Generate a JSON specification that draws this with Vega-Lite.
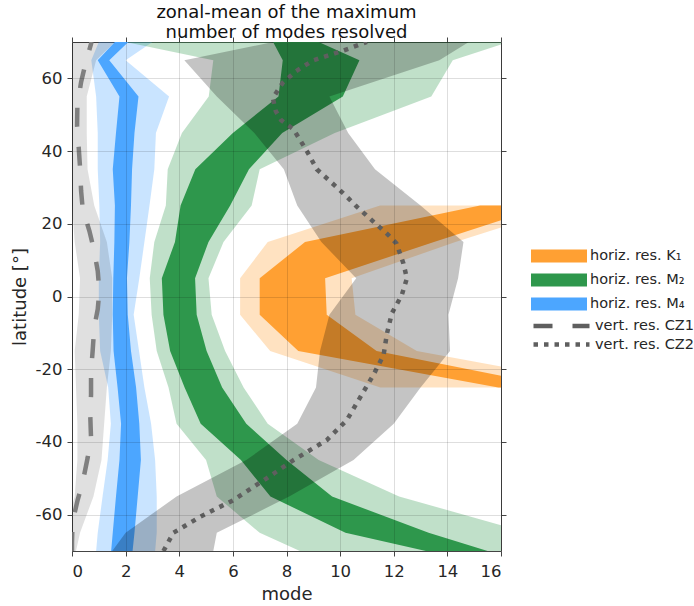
{
  "$schema": "https://vega.github.io/schema/vega-lite/v6.json",
  "autosize": "none",
  "width": 429,
  "height": 509,
  "padding": {"left": 72, "top": 42, "right": 193, "bottom": 55},
  "background": "white",
  "config": {
    "font": "DejaVu Sans",
    "view": {"stroke": "#444", "strokeWidth": 1},
    "axis": {"labelFont": "DejaVu Sans", "titleFont": "DejaVu Sans", "labelFontSize": 16.5, "titleFontSize": 18, "titleFontWeight": "normal", "labelColor": "#262626", "titleColor": "#262626", "tickColor": "#444", "tickSize": 5, "domainColor": "#444", "gridColor": "#000", "gridOpacity": 0.13, "gridWidth": 1},
    "legend": {"labelFont": "DejaVu Sans", "labelFontSize": 14.5, "labelColor": "#262626", "title": null, "labelLimit": 200}
  },
  "title": {"text": ["zonal-mean of the maximum", "number of modes resolved"], "fontSize": 18, "fontWeight": "normal", "font": "DejaVu Sans", "color": "#111", "anchor": "middle", "offset": -5, "lineHeight": 20},
  "datasets": {
    "bands": [
      {"s": "horiz. res. M₄", "k": "o", "lat": 70, "lo": 1.0, "hi": 3.0},
      {"s": "horiz. res. M₄", "k": "o", "lat": 65, "lo": 0.72, "hi": 2.0},
      {"s": "horiz. res. M₄", "k": "o", "lat": 55, "lo": 0.9, "hi": 3.62},
      {"s": "horiz. res. M₄", "k": "o", "lat": 45, "lo": 0.96, "hi": 3.13},
      {"s": "horiz. res. M₄", "k": "o", "lat": 35, "lo": 0.96, "hi": 3.07},
      {"s": "horiz. res. M₄", "k": "o", "lat": 25, "lo": 1.02, "hi": 2.89},
      {"s": "horiz. res. M₄", "k": "o", "lat": 15, "lo": 1.05, "hi": 2.7},
      {"s": "horiz. res. M₄", "k": "o", "lat": 5, "lo": 1.0, "hi": 2.51},
      {"s": "horiz. res. M₄", "k": "o", "lat": -5, "lo": 1.0, "hi": 2.3},
      {"s": "horiz. res. M₄", "k": "o", "lat": -15, "lo": 1.05, "hi": 2.5},
      {"s": "horiz. res. M₄", "k": "o", "lat": -25, "lo": 1.35, "hi": 2.7},
      {"s": "horiz. res. M₄", "k": "o", "lat": -35, "lo": 1.45, "hi": 2.95},
      {"s": "horiz. res. M₄", "k": "o", "lat": -45, "lo": 1.33, "hi": 3.1},
      {"s": "horiz. res. M₄", "k": "o", "lat": -55, "lo": 1.14, "hi": 3.16},
      {"s": "horiz. res. M₄", "k": "o", "lat": -65, "lo": 0.96, "hi": 3.16},
      {"s": "horiz. res. M₄", "k": "o", "lat": -70, "lo": 0.9, "hi": 3.1},
      {"s": "horiz. res. M₄", "k": "i", "lat": 70, "lo": 1.6, "hi": 2.1},
      {"s": "horiz. res. M₄", "k": "i", "lat": 65, "lo": 0.96, "hi": 1.39},
      {"s": "horiz. res. M₄", "k": "i", "lat": 55, "lo": 1.77, "hi": 2.48},
      {"s": "horiz. res. M₄", "k": "i", "lat": 45, "lo": 1.64, "hi": 2.33},
      {"s": "horiz. res. M₄", "k": "i", "lat": 35, "lo": 1.52, "hi": 2.24},
      {"s": "horiz. res. M₄", "k": "i", "lat": 25, "lo": 1.6, "hi": 2.2},
      {"s": "horiz. res. M₄", "k": "i", "lat": 15, "lo": 1.58, "hi": 2.14},
      {"s": "horiz. res. M₄", "k": "i", "lat": 5, "lo": 1.54, "hi": 2.05},
      {"s": "horiz. res. M₄", "k": "i", "lat": -5, "lo": 1.52, "hi": 2.08},
      {"s": "horiz. res. M₄", "k": "i", "lat": -15, "lo": 1.55, "hi": 2.2},
      {"s": "horiz. res. M₄", "k": "i", "lat": -25, "lo": 1.7, "hi": 2.39},
      {"s": "horiz. res. M₄", "k": "i", "lat": -35, "lo": 1.83, "hi": 2.51},
      {"s": "horiz. res. M₄", "k": "i", "lat": -45, "lo": 1.77, "hi": 2.57},
      {"s": "horiz. res. M₄", "k": "i", "lat": -55, "lo": 1.64, "hi": 2.45},
      {"s": "horiz. res. M₄", "k": "i", "lat": -65, "lo": 1.52, "hi": 2.33},
      {"s": "horiz. res. M₄", "k": "i", "lat": -70, "lo": 1.46, "hi": 2.26},
      {"s": "horiz. res. M₂", "k": "o", "lat": 70, "lo": 2.0, "hi": 16.3},
      {"s": "horiz. res. M₂", "k": "o", "lat": 65, "lo": 5.27, "hi": 14.2},
      {"s": "horiz. res. M₂", "k": "o", "lat": 55, "lo": 5.1, "hi": 13.4},
      {"s": "horiz. res. M₂", "k": "o", "lat": 45, "lo": 4.1, "hi": 9.8},
      {"s": "horiz. res. M₂", "k": "o", "lat": 35, "lo": 3.57, "hi": 7.0},
      {"s": "horiz. res. M₂", "k": "o", "lat": 25, "lo": 3.5, "hi": 6.7},
      {"s": "horiz. res. M₂", "k": "o", "lat": 15, "lo": 3.07, "hi": 5.65},
      {"s": "horiz. res. M₂", "k": "o", "lat": 5, "lo": 2.9, "hi": 5.09},
      {"s": "horiz. res. M₂", "k": "o", "lat": -5, "lo": 2.97, "hi": 5.21},
      {"s": "horiz. res. M₂", "k": "o", "lat": -15, "lo": 3.16, "hi": 5.71},
      {"s": "horiz. res. M₂", "k": "o", "lat": -25, "lo": 3.6, "hi": 6.4},
      {"s": "horiz. res. M₂", "k": "o", "lat": -35, "lo": 3.9, "hi": 7.3},
      {"s": "horiz. res. M₂", "k": "o", "lat": -45, "lo": 5.0, "hi": 9.2},
      {"s": "horiz. res. M₂", "k": "o", "lat": -55, "lo": 5.4, "hi": 12.2},
      {"s": "horiz. res. M₂", "k": "o", "lat": -65, "lo": 7.0, "hi": 17.0},
      {"s": "horiz. res. M₂", "k": "o", "lat": -70, "lo": 8.5, "hi": 18.2},
      {"s": "horiz. res. M₂", "k": "i", "lat": 70, "lo": 7.5, "hi": 9.2},
      {"s": "horiz. res. M₂", "k": "i", "lat": 65, "lo": 7.86, "hi": 10.72},
      {"s": "horiz. res. M₂", "k": "i", "lat": 55, "lo": 7.7, "hi": 10.1},
      {"s": "horiz. res. M₂", "k": "i", "lat": 45, "lo": 6.0, "hi": 7.84},
      {"s": "horiz. res. M₂", "k": "i", "lat": 35, "lo": 4.6, "hi": 6.6},
      {"s": "horiz. res. M₂", "k": "i", "lat": 25, "lo": 4.05, "hi": 5.9},
      {"s": "horiz. res. M₂", "k": "i", "lat": 15, "lo": 3.84, "hi": 5.09},
      {"s": "horiz. res. M₂", "k": "i", "lat": 5, "lo": 3.35, "hi": 4.59},
      {"s": "horiz. res. M₂", "k": "i", "lat": -5, "lo": 3.41, "hi": 4.65},
      {"s": "horiz. res. M₂", "k": "i", "lat": -15, "lo": 3.66, "hi": 5.02},
      {"s": "horiz. res. M₂", "k": "i", "lat": -25, "lo": 4.2, "hi": 5.6},
      {"s": "horiz. res. M₂", "k": "i", "lat": -35, "lo": 4.8, "hi": 6.5},
      {"s": "horiz. res. M₂", "k": "i", "lat": -45, "lo": 6.3, "hi": 8.0},
      {"s": "horiz. res. M₂", "k": "i", "lat": -55, "lo": 7.4, "hi": 9.7},
      {"s": "horiz. res. M₂", "k": "i", "lat": -65, "lo": 10.2, "hi": 13.3},
      {"s": "horiz. res. M₂", "k": "i", "lat": -70, "lo": 13.2, "hi": 15.5},
      {"s": "horiz. res. K₁", "k": "o", "lat": 25, "lo": 11.49, "hi": 18.6},
      {"s": "horiz. res. K₁", "k": "o", "lat": 15, "lo": 7.3, "hi": 14.3},
      {"s": "horiz. res. K₁", "k": "o", "lat": 5, "lo": 6.27, "hi": 10.43},
      {"s": "horiz. res. K₁", "k": "o", "lat": -5, "lo": 6.27, "hi": 10.57},
      {"s": "horiz. res. K₁", "k": "o", "lat": -15, "lo": 7.39, "hi": 12.86},
      {"s": "horiz. res. K₁", "k": "o", "lat": -25, "lo": 11.5, "hi": 20.2},
      {"s": "horiz. res. K₁", "k": "i", "lat": 25, "lo": 15.22, "hi": 17.7},
      {"s": "horiz. res. K₁", "k": "i", "lat": 15, "lo": 8.69, "hi": 13.5},
      {"s": "horiz. res. K₁", "k": "i", "lat": 5, "lo": 7.0, "hi": 9.44},
      {"s": "horiz. res. K₁", "k": "i", "lat": -5, "lo": 7.0, "hi": 9.5},
      {"s": "horiz. res. K₁", "k": "i", "lat": -15, "lo": 8.44, "hi": 11.36},
      {"s": "horiz. res. K₁", "k": "i", "lat": -25, "lo": 15.9, "hi": 18.2}
    ],
    "grey": [
      {"b": "CZ1", "lat": 70, "lo": -0.3, "hi": 1.6},
      {"b": "CZ1", "lat": 65, "lo": -0.2, "hi": 0.9},
      {"b": "CZ1", "lat": 55, "lo": -0.1, "hi": 0.55},
      {"b": "CZ1", "lat": 45, "lo": -0.05, "hi": 0.55},
      {"b": "CZ1", "lat": 35, "lo": 0.0, "hi": 0.58},
      {"b": "CZ1", "lat": 25, "lo": 0.0, "hi": 0.83},
      {"b": "CZ1", "lat": 15, "lo": 0.1, "hi": 1.3},
      {"b": "CZ1", "lat": 5, "lo": 0.3, "hi": 1.5},
      {"b": "CZ1", "lat": -5, "lo": 0.25, "hi": 1.5},
      {"b": "CZ1", "lat": -15, "lo": 0.1, "hi": 1.45},
      {"b": "CZ1", "lat": -25, "lo": 0.15, "hi": 1.3},
      {"b": "CZ1", "lat": -35, "lo": 0.2, "hi": 1.2},
      {"b": "CZ1", "lat": -45, "lo": 0.2, "hi": 1.1},
      {"b": "CZ1", "lat": -55, "lo": 0.1, "hi": 0.8},
      {"b": "CZ1", "lat": -65, "lo": -0.3, "hi": 0.3},
      {"b": "CZ1", "lat": -70, "lo": -0.4, "hi": 0.15},
      {"b": "CZ2", "lat": 70, "lo": 7.5, "hi": 14.8},
      {"b": "CZ2", "lat": 65, "lo": 4.19, "hi": 13.7},
      {"b": "CZ2", "lat": 55, "lo": 5.4, "hi": 9.6},
      {"b": "CZ2", "lat": 45, "lo": 6.8, "hi": 10.3},
      {"b": "CZ2", "lat": 35, "lo": 7.9, "hi": 11.3},
      {"b": "CZ2", "lat": 25, "lo": 8.4, "hi": 13.0},
      {"b": "CZ2", "lat": 15, "lo": 9.3, "hi": 14.6},
      {"b": "CZ2", "lat": 5, "lo": 10.6, "hi": 14.4},
      {"b": "CZ2", "lat": -5, "lo": 9.6, "hi": 14.04},
      {"b": "CZ2", "lat": -15, "lo": 9.25, "hi": 14.1},
      {"b": "CZ2", "lat": -25, "lo": 9.1, "hi": 13.0},
      {"b": "CZ2", "lat": -35, "lo": 8.4, "hi": 12.0},
      {"b": "CZ2", "lat": -45, "lo": 6.5, "hi": 10.5},
      {"b": "CZ2", "lat": -55, "lo": 3.9, "hi": 8.1},
      {"b": "CZ2", "lat": -65, "lo": 2.0, "hi": 5.4},
      {"b": "CZ2", "lat": -70, "lo": 1.5, "hi": 5.27}
    ],
    "lines": [
      {"line": "vert. res. CZ1", "lat": 70, "mode": 0.73},
      {"line": "vert. res. CZ1", "lat": 64, "mode": 0.5},
      {"line": "vert. res. CZ1", "lat": 59, "mode": 0.34},
      {"line": "vert. res. CZ1", "lat": 52.5, "mode": 0.2},
      {"line": "vert. res. CZ1", "lat": 47, "mode": 0.19},
      {"line": "vert. res. CZ1", "lat": 41, "mode": 0.25},
      {"line": "vert. res. CZ1", "lat": 35.5, "mode": 0.3},
      {"line": "vert. res. CZ1", "lat": 29, "mode": 0.34},
      {"line": "vert. res. CZ1", "lat": 24, "mode": 0.4},
      {"line": "vert. res. CZ1", "lat": 18, "mode": 0.65},
      {"line": "vert. res. CZ1", "lat": 12.5, "mode": 0.83},
      {"line": "vert. res. CZ1", "lat": 7, "mode": 0.96},
      {"line": "vert. res. CZ1", "lat": 1.5, "mode": 1.02},
      {"line": "vert. res. CZ1", "lat": -3.5, "mode": 0.96},
      {"line": "vert. res. CZ1", "lat": -8.5, "mode": 0.83},
      {"line": "vert. res. CZ1", "lat": -15, "mode": 0.77},
      {"line": "vert. res. CZ1", "lat": -20.5, "mode": 0.71},
      {"line": "vert. res. CZ1", "lat": -27, "mode": 0.71},
      {"line": "vert. res. CZ1", "lat": -32.5, "mode": 0.68},
      {"line": "vert. res. CZ1", "lat": -39, "mode": 0.71},
      {"line": "vert. res. CZ1", "lat": -44.5, "mode": 0.58},
      {"line": "vert. res. CZ1", "lat": -51, "mode": 0.4},
      {"line": "vert. res. CZ1", "lat": -56, "mode": 0.21},
      {"line": "vert. res. CZ1", "lat": -62, "mode": 0.02},
      {"line": "vert. res. CZ1", "lat": -67.5, "mode": 0.0},
      {"line": "vert. res. CZ1", "lat": -70, "mode": 0.0},
      {"line": "vert. res. CZ2", "lat": 70, "mode": 11.0},
      {"line": "vert. res. CZ2", "lat": 67.6, "mode": 10.1},
      {"line": "vert. res. CZ2", "lat": 64.9, "mode": 8.98},
      {"line": "vert. res. CZ2", "lat": 62, "mode": 8.36},
      {"line": "vert. res. CZ2", "lat": 58.8, "mode": 7.86},
      {"line": "vert. res. CZ2", "lat": 54.6, "mode": 7.49},
      {"line": "vert. res. CZ2", "lat": 51, "mode": 7.6},
      {"line": "vert. res. CZ2", "lat": 48.5, "mode": 7.8},
      {"line": "vert. res. CZ2", "lat": 46, "mode": 8.26},
      {"line": "vert. res. CZ2", "lat": 40, "mode": 8.76},
      {"line": "vert. res. CZ2", "lat": 35, "mode": 9.13},
      {"line": "vert. res. CZ2", "lat": 30, "mode": 9.88},
      {"line": "vert. res. CZ2", "lat": 27, "mode": 10.31},
      {"line": "vert. res. CZ2", "lat": 24.7, "mode": 10.62},
      {"line": "vert. res. CZ2", "lat": 20.6, "mode": 11.24},
      {"line": "vert. res. CZ2", "lat": 16.9, "mode": 11.8},
      {"line": "vert. res. CZ2", "lat": 14.6, "mode": 12.1},
      {"line": "vert. res. CZ2", "lat": 9.1, "mode": 12.36},
      {"line": "vert. res. CZ2", "lat": 5, "mode": 12.49},
      {"line": "vert. res. CZ2", "lat": 0.4, "mode": 12.3},
      {"line": "vert. res. CZ2", "lat": -4.6, "mode": 11.93},
      {"line": "vert. res. CZ2", "lat": -10.1, "mode": 11.75},
      {"line": "vert. res. CZ2", "lat": -16.1, "mode": 11.62},
      {"line": "vert. res. CZ2", "lat": -21.6, "mode": 11.24},
      {"line": "vert. res. CZ2", "lat": -26.2, "mode": 10.87},
      {"line": "vert. res. CZ2", "lat": -34, "mode": 10.25},
      {"line": "vert. res. CZ2", "lat": -39.5, "mode": 9.5},
      {"line": "vert. res. CZ2", "lat": -45, "mode": 8.26},
      {"line": "vert. res. CZ2", "lat": -50, "mode": 7.26},
      {"line": "vert. res. CZ2", "lat": -56, "mode": 6.02},
      {"line": "vert. res. CZ2", "lat": -60.6, "mode": 4.78},
      {"line": "vert. res. CZ2", "lat": -65, "mode": 3.78},
      {"line": "vert. res. CZ2", "lat": -70, "mode": 3.41}
    ]
  },
  "resolve": {"axis": {"x": "independent", "y": "independent"}},
  "layer": [
    {
      "data": {"name": "bands"},
      "transform": [{"filter": "datum.k === 'o'"}],
      "mark": {"type": "area", "orient": "horizontal", "clip": true, "fillOpacity": 0.3},
      "encoding": {
        "y": {"field": "lat", "type": "quantitative", "scale": {"domain": [-70, 70], "nice": false, "zero": false},
              "axis": {"orient": "left", "values": [-60, -40, -20, 0, 20, 40, 60], "title": "latitude [°]", "grid": true, "zindex": 1, "labelPadding": 5, "titlePadding": 6, "domain": false, "labelExpr": "replace(datum.label, '−', '-')"}},
        "x": {"field": "lo", "type": "quantitative", "scale": {"domain": [0, 16], "nice": false, "zero": false},
              "axis": {"orient": "bottom", "values": [0, 2, 4, 6, 8, 10, 12, 14, 16], "title": "mode", "grid": true, "zindex": 1, "labelPadding": 7, "titlePadding": 6, "domain": false}},
        "x2": {"field": "hi"},
        "color": {"field": "s", "type": "nominal",
                  "scale": {"domain": ["horiz. res. K₁", "horiz. res. M₂", "horiz. res. M₄"], "range": ["#ffa033", "#2e974c", "#4ca6ff"]},
                  "legend": {"orient": "none", "legendX": 459, "legendY": 205, "symbolType": "M-1,-0.23H1V0.23H-1Z", "symbolSize": 3136, "symbolOpacity": 1, "symbolStrokeWidth": 0, "clipHeight": 18, "rowPadding": 6, "labelOffset": 3}}
      }
    },
    {
      "data": {"name": "bands"},
      "transform": [{"filter": "datum.k === 'i'"}],
      "mark": {"type": "area", "orient": "horizontal", "clip": true},
      "encoding": {
        "y": {"field": "lat", "type": "quantitative", "axis": {"orient": "right", "values": [-60, -40, -20, 0, 20, 40, 60], "labels": false, "title": null, "grid": false, "domain": false}},
        "x": {"field": "lo", "type": "quantitative", "axis": {"orient": "top", "values": [0, 2, 4, 6, 8, 10, 12, 14, 16], "labels": false, "title": null, "grid": false, "domain": false}},
        "x2": {"field": "hi"},
        "color": {"field": "s", "type": "nominal"}
      }
    },
    {
      "data": {"name": "grey"},
      "transform": [{"filter": "datum.b === 'CZ1'"}],
      "mark": {"type": "area", "orient": "horizontal", "clip": true, "color": "#000", "fillOpacity": 0.12},
      "encoding": {
        "y": {"field": "lat", "type": "quantitative", "axis": null},
        "x": {"field": "lo", "type": "quantitative", "axis": null},
        "x2": {"field": "hi"}
      }
    },
    {
      "data": {"name": "grey"},
      "transform": [{"filter": "datum.b === 'CZ2'"}],
      "mark": {"type": "area", "orient": "horizontal", "clip": true, "color": "#000", "fillOpacity": 0.23},
      "encoding": {
        "y": {"field": "lat", "type": "quantitative", "axis": null},
        "x": {"field": "lo", "type": "quantitative", "axis": null},
        "x2": {"field": "hi"}
      }
    },
    {
      "data": {"name": "lines"},
      "transform": [{"filter": "datum.line === 'vert. res. CZ1'"}],
      "mark": {"type": "line", "clip": true, "color": "#7f7f7f", "strokeWidth": 4.5, "strokeCap": "butt"},
      "encoding": {
        "y": {"field": "lat", "type": "quantitative", "axis": null},
        "x": {"field": "mode", "type": "quantitative", "axis": null},
        "order": {"field": "lat", "type": "quantitative"},
        "strokeDash": {"field": "line", "type": "nominal",
                       "scale": {"domain": ["vert. res. CZ1", "vert. res. CZ2"], "range": [[19, 20], [4.5, 6]]},
                       "legend": {"orient": "none", "legendX": 459, "legendY": 277, "symbolType": "stroke", "symbolSize": 3136, "symbolStrokeWidth": 4.5, "symbolStrokeColor": "#888", "clipHeight": 14, "rowPadding": 3.5, "labelOffset": 3}}
      }
    },
    {
      "data": {"name": "lines"},
      "transform": [{"filter": "datum.line === 'vert. res. CZ2'"}],
      "mark": {"type": "line", "clip": true, "color": "#5f5f5f", "strokeWidth": 4.5, "strokeCap": "butt"},
      "encoding": {
        "y": {"field": "lat", "type": "quantitative", "axis": null},
        "x": {"field": "mode", "type": "quantitative", "axis": null},
        "order": {"field": "lat", "type": "quantitative"},
        "strokeDash": {"field": "line", "type": "nominal"}
      }
    }
  ]
}
